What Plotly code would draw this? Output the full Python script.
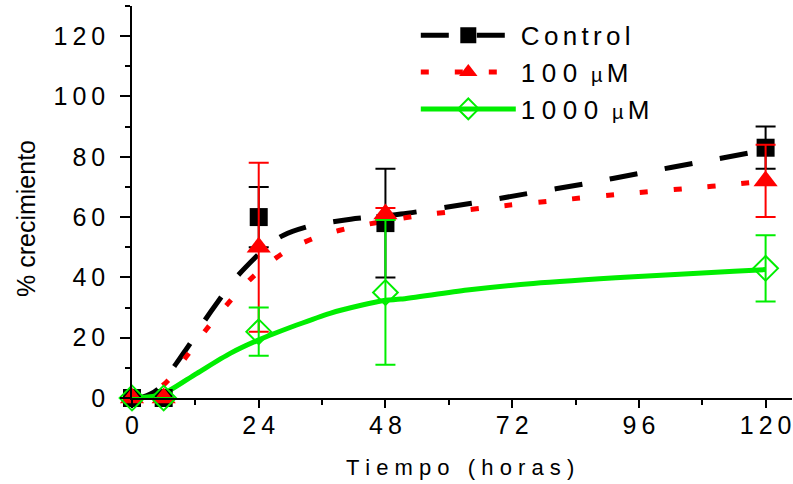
import plotly.graph_objects as go

# ---- data ----
hours = [0, 6, 24, 48, 120]
control = [0, 0, 60, 58, 83]
control_err = [0, 0, 10, 18, 7]
um100 = [0, 0, 50, 61, 72]
um100_err = [0, 0, 28, 2, 12]
um1000 = [0, 0, 22, 35, 43]
um1000_err = [0, 0, 8, 24, 11]

# fitted curves
fit_x_control = [0, 2, 5, 8, 11, 13.5, 16.3, 19.5, 23.3, 26, 28.7, 33.7, 41.4, 50.9, 64, 74.9, 85.6, 96.4, 107.8, 117.9, 120]
fit_y_control = [0, 0.3, 3, 10.5, 18, 25, 32, 39.5, 46.5, 51, 54, 57, 59.3, 61, 64.5, 67.8, 71, 74.6, 78.3, 81.6, 82.5]
fit_x_100 = [0, 3, 6.6, 10.4, 14.1, 18.2, 22.9, 29, 35.5, 42, 54.7, 61.6, 67.9, 80.8, 93.9, 107.2, 113.5, 120]
fit_y_100 = [0, 0.8, 5.4, 14, 22.8, 31.4, 40.2, 48.5, 53.7, 56.7, 60.6, 62, 63.3, 65.6, 67.8, 69.8, 70.8, 72]
fit_x_1000 = [0, 3, 6, 12.3, 18.6, 23.9, 31.2, 37.5, 43, 48, 50.9, 63.5, 76, 95, 114, 120]
fit_y_1000 = [0, 0.3, 1.5, 8.2, 14.8, 19.2, 24.2, 28.1, 30.6, 32.4, 32.8, 35.8, 38, 40.2, 42, 42.6]

series_names = ["Control", "100 µM", "1000 µM"]
x_ticks = [0, 24, 48, 72, 96, 120]
y_ticks = [0, 20, 40, 60, 80, 100, 120]

SIX = "\u2006"   # six-per-em space
FOUR = "\u2005"  # four-per-em space
THIN = "\u2009"
HAIR = "\u200a"


def spaced(s, sep=THIN):
    return sep.join(list(s))


def legend_label(s):
    if "µ" in s:
        num, unit = s.split(" ")
        return spaced(num, FOUR) + " " + FOUR + '<span style="font-size:20px">µ</span>' + SIX + unit[1:]
    return spaced(s, SIX)


FONT = "Arial, Liberation Sans, sans-serif"
GREEN = "#00ee00"
fig = go.Figure()

styles = [
    dict(color="black", dash="28px,28px", width=5, symbol="square", msize=18, mline=0, mfill="black"),
    dict(color="red", dash="8px,26px", width=5, symbol="triangle-up", msize=21, mline=0, mfill="red"),
    dict(color=GREEN, dash="solid", width=5, symbol="diamond-open", msize=19, mline=2, mfill=GREEN),
]
fits = [(fit_x_control, fit_y_control), (fit_x_100, fit_y_100), (fit_x_1000, fit_y_1000)]
vals = [(control, control_err), (um100, um100_err), (um1000, um1000_err)]

for name, st, (fx, fy) in zip(series_names, styles, fits):
    fig.add_trace(go.Scatter(
        x=fx, y=fy, mode="lines",
        line=dict(color=st["color"], dash=st["dash"], width=st["width"], shape="spline", smoothing=0.8),
        showlegend=False, hoverinfo="skip"))

for name, st, (vy, ve) in zip(series_names, styles, vals):
    fig.add_trace(go.Scatter(
        x=hours, y=vy, mode="markers",
        marker=dict(symbol=st["symbol"], size=st["msize"], color=st["mfill"],
                    line=dict(color=st["color"], width=st["mline"])),
        error_y=dict(type="data", array=ve, color=st["color"], thickness=2, width=10),
        showlegend=False, cliponaxis=False))

for i, (name, st) in enumerate(zip(series_names, styles)):
    fig.add_trace(go.Scatter(
        x=[None], y=[None], mode="lines+markers", name=legend_label(name), legendgroup=f"g{i}",
        line=dict(color=st["color"], dash=st["dash"], width=st["width"]),
        marker=dict(symbol=st["symbol"], size=st["msize"], color=st["mfill"],
                    line=dict(color=st["color"], width=st["mline"]))))

fig.update_layout(
    width=793, height=484,
    margin=dict(l=132, r=1, t=6, b=86),
    plot_bgcolor="white", paper_bgcolor="white",
    font=dict(family=FONT, size=25, color="black"),
    showlegend=True,
    legend=dict(x=0.43, y=0.985, xanchor="left", yanchor="top", bgcolor="rgba(0,0,0,0)",
                itemwidth=95, tracegroupgap=0, font=dict(size=26)),
    xaxis=dict(range=[0, 125], showline=True, linecolor="black", linewidth=1.5, showgrid=False, zeroline=False,
               tickmode="array", tickvals=x_ticks, ticktext=[spaced(str(v)) for v in x_ticks],
               ticks="outside", ticklen=8, tickwidth=1.5, tickcolor="black", ticklabeloverflow="allow",
               minor=dict(dtick=12, tick0=0, ticks="outside", ticklen=5, tickwidth=1.5, tickcolor="black"),
               tickfont=dict(size=25), ticklabelstandoff=-4),
    yaxis=dict(range=[0, 130], showline=True, linecolor="black", linewidth=1.5, showgrid=False, zeroline=False,
               tickmode="array", tickvals=y_ticks, ticktext=[spaced(str(v)) for v in y_ticks],
               ticks="outside", ticklen=10, tickwidth=1.5, tickcolor="black",
               minor=dict(dtick=10, tick0=0, ticks="outside", ticklen=5, tickwidth=1.5, tickcolor="black"),
               tickfont=dict(size=25), ticklabelstandoff=10),
    annotations=[
        dict(text=spaced("Tiempo (horas)", " "), xref="paper", yref="paper", x=(460 - 132) / 660,
             y=-(467 - 398) / 392, xanchor="center", yanchor="middle", showarrow=False, font=dict(size=22)),
        dict(text="% crecimiento", xref="paper", yref="paper", x=-(132 - 26) / 660, y=(398 - 219) / 392,
             xanchor="center", yanchor="middle", showarrow=False, textangle=-90, font=dict(size=25)),
    ],
)

fig.write_html("out.html")
